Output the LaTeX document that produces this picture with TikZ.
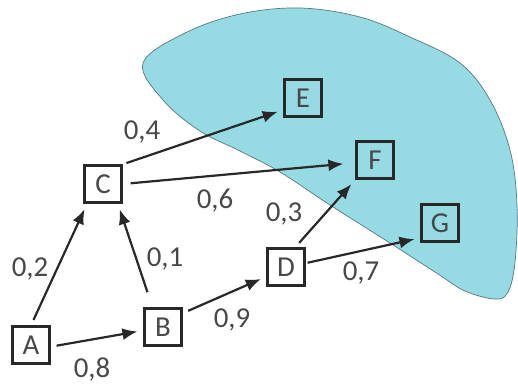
\documentclass[tikz,border=0pt]{standalone}
\usepackage{fontspec}
\setmainfont{Carlito}
\usetikzlibrary{arrows.meta}
\definecolor{zone}{RGB}{150,218,228}
\definecolor{zonebord}{RGB}{90,120,128}
\definecolor{encre}{RGB}{40,40,40}
\begin{document}
\begin{tikzpicture}[x=1bp, y=-1bp,
    box_style/.style={rectangle, draw=encre, line width=2.3bp, minimum size=37bp, inner sep=0pt, text=encre!85, font=\fontsize{29}{34}\selectfont},
    arrow_style/.style={-{Latex[length=15bp, width=12bp]}, line width=2.2bp, draw=encre, shorten <=6bp, shorten >=6bp},
    weight_style/.style={text=encre!85, font=\fontsize{29}{34}\selectfont, inner sep=0pt}
]
\useasboundingbox (0,0) rectangle (518,385);
% zone colorée
\fill[zone, draw=zonebord, line width=0.7bp] plot[smooth cycle, tension=0.6] coordinates {
    (143,63) (185,33) (240,14) (300,8) (360,17) (410,37) (460,63) (490,100)
    (510,150) (517,205) (515,262) (508,292) (495,299) (465,291) (438,274)
    (390,243) (330,205) (280,172) (240,151) (200,131) (163,100)};
% sommets
\node[box_style] (A) at (31,345) {A};
\node[box_style] (B) at (163,327) {B};
\node[box_style] (C) at (103,184) {C};
\node[box_style] (D) at (286,267) {D};
\node[box_style] (E) at (303,98) {E};
\node[box_style] (F) at (375,160) {F};
\node[box_style] (G) at (440,223) {G};
% arcs
\draw[arrow_style] (A.north) -- (C.231);
\draw[arrow_style, shorten <=16bp] (B.118) -- (C.-53);
\draw[arrow_style] (A.-5) -- (B.190);
\draw[arrow_style] (B.35) -- (D.206);
\draw[arrow_style] (D.65) -- (F.south west);
\draw[arrow_style, shorten <=2bp] (D.11) -- (G.217);
\draw[arrow_style, shorten <=4bp] (C.north east) -- (E.211);
\draw[arrow_style, shorten <=8bp, shorten >=12bp] (C.east) -- (F.188);
% poids
\node[weight_style] (w_ac) at (30,269) {0,2};
\node[weight_style] (w_bc) at (165,259) {0,1};
\node[weight_style] (w_ab) at (92,369) {0,8};
\node[weight_style] (w_bd) at (232,320) {0,9};
\node[weight_style] (w_cf) at (215,201) {0,6};
\node[weight_style] (w_ce) at (142,132) {0,4};
\node[weight_style] (w_df) at (284,214) {0,3};
\node[weight_style] (w_dg) at (361,273) {0,7};
\end{tikzpicture}
\end{document}
